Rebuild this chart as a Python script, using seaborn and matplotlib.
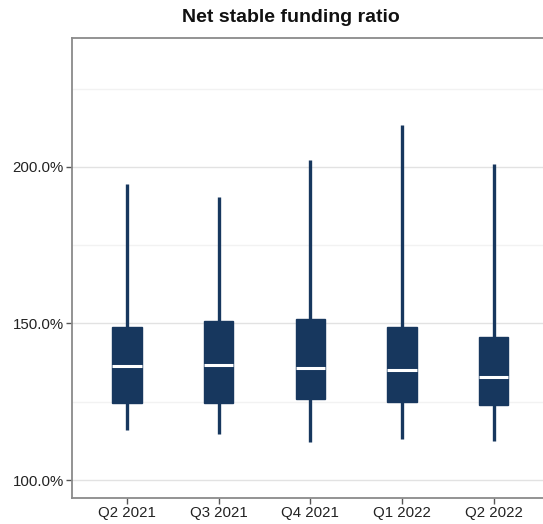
import numpy as np
import pandas as pd
import matplotlib
matplotlib.use("Agg")
import matplotlib.pyplot as plt
import seaborn as sns
from matplotlib.ticker import FuncFormatter, MultipleLocator

quarters = ["Q2 2021", "Q3 2021", "Q4 2021", "Q1 2022", "Q2 2022"]
whisker_low = [116.0, 114.7, 112.1, 113.2, 112.5]
q1 = [124.5, 124.5, 126.0, 124.8, 124.1]
median = [136.4, 136.7, 135.8, 135.1, 132.8]
q3 = [148.8, 150.7, 151.3, 148.8, 145.6]
whisker_high = [194.6, 190.5, 202.2, 213.3, 200.9]

# five summary values per quarter -> quartiles come out exactly with whis=(0, 100)
rows = []
for i, q in enumerate(quarters):
    for v in (whisker_low[i], q1[i], median[i], q3[i], whisker_high[i]):
        rows.append({"quarter": q, "value": v})
df = pd.DataFrame(rows)

sns.set_theme(style="white")
plt.rcParams["font.family"] = ["Liberation Sans", "DejaVu Sans"]

navy = "#17375e"
fig = plt.figure(figsize=(5.43, 5.24), dpi=100)
ax = fig.add_axes([0.1326, 0.0496, 0.8674, 0.8779])

sns.boxplot(data=df, x="quarter", y="value", order=quarters, ax=ax,
            whis=(0, 100), width=0.32, showcaps=False, fliersize=0,
            boxprops=dict(facecolor=navy, edgecolor=navy, linewidth=1),
            whiskerprops=dict(color=navy, linewidth=2.4),
            medianprops=dict(color="white", linewidth=2.2))

ax.set_xlim(-0.6, 4.54)
ax.set_ylim(94.25, 241.2)
ax.yaxis.set_major_locator(MultipleLocator(50))
ax.yaxis.set_minor_locator(MultipleLocator(25))
ax.yaxis.set_major_formatter(FuncFormatter(lambda v, p: f"{v:.1f}%"))
ax.grid(axis="y", which="major", color="#e2e2e2", linewidth=1)
ax.grid(axis="y", which="minor", color="#f2f2f2", linewidth=1)
ax.set_axisbelow(True)
ax.set_xlabel("")
ax.set_ylabel("")

for s in ["left", "top", "bottom"]:
    ax.spines[s].set_color("#8a8a8a")
    ax.spines[s].set_linewidth(1.3)
ax.spines["right"].set_visible(False)

ax.tick_params(axis="both", which="major", length=4, width=1, color="#555555",
               labelsize=10.8, labelcolor="#222222", left=True, bottom=True, pad=2)
ax.tick_params(axis="y", which="minor", length=0)

fig.text(0.536, 0.966, "Net stable funding ratio", ha="center", va="center",
         fontsize=14, fontweight="bold", color="#111111")

fig.savefig("out.png", dpi=100)
